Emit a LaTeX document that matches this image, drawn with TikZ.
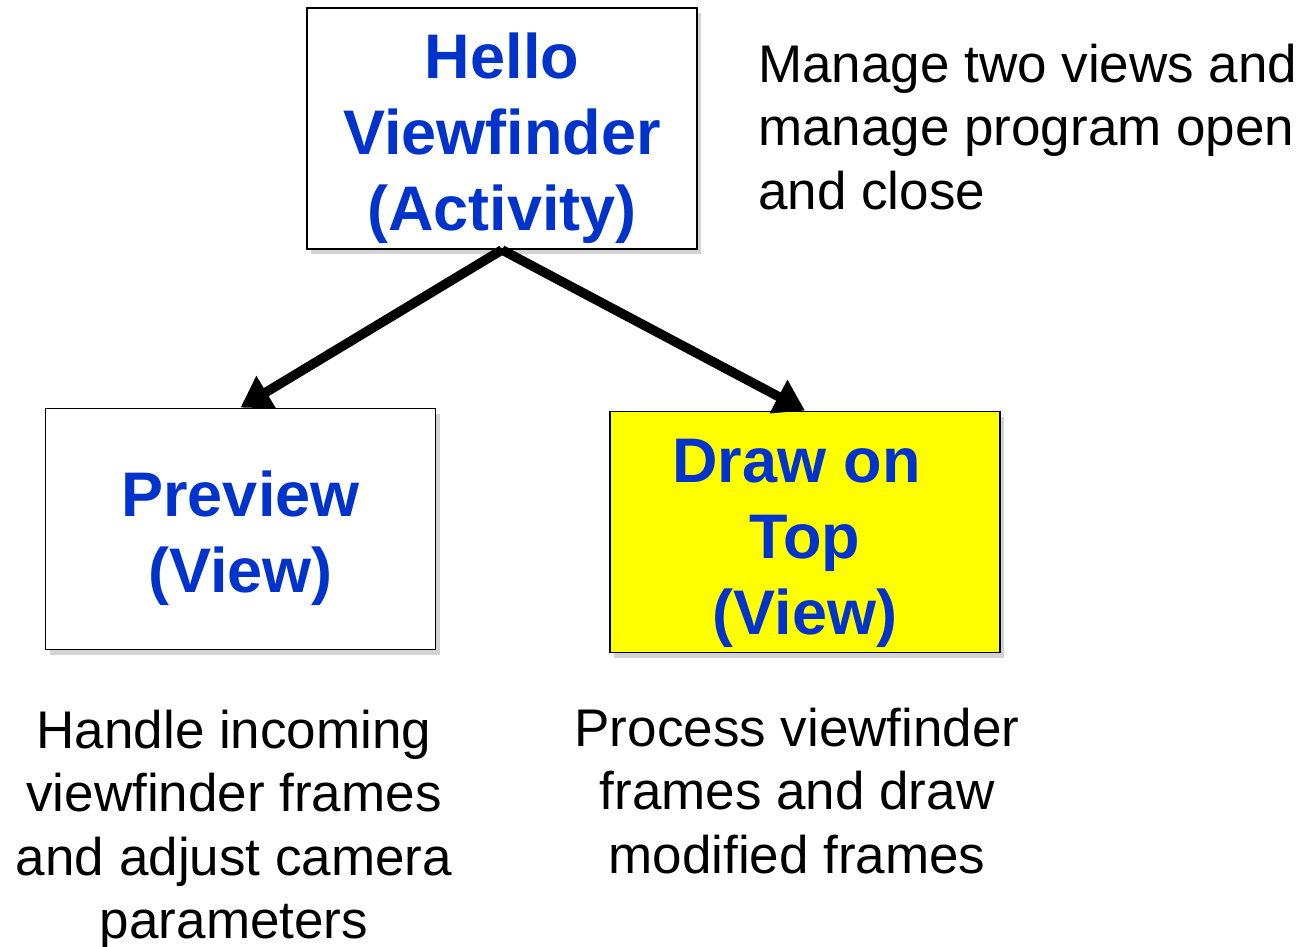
\documentclass[tikz,border=0pt]{standalone}
\usepackage{fontspec}
\setmainfont{Liberation Sans}
\usetikzlibrary{arrows.meta,shadows}
\definecolor{tblue}{HTML}{0033CC}
\definecolor{tyellow}{HTML}{FFFF00}
\tikzset{
  classbox/.style={draw=black, line width=1.8pt, fill=white, minimum width=390pt, minimum height=241pt,
    inner sep=0pt, drop shadow={opacity=0.35, shadow xshift=4pt, shadow yshift=-5pt}},
  boxtext/.style={align=center, text=tblue, font=\fontsize{63}{76}\selectfont\bfseries, inner sep=0pt},
  desc/.style={font=\fontsize{53}{63.5}\selectfont, inner sep=0pt, text=black},
  link/.style={line width=9.5pt, -{Triangle[length=30pt,width=36pt]}}
}
\begin{document}
\begin{tikzpicture}[x=1pt,y=-1pt]
\useasboundingbox (0,0) rectangle (1303,947);
\node[classbox] (hello) at (502,128.5) {};
\node[boxtext] (hellot) at ([yshift=-10pt]hello.center) {Hello\\Viewfinder\\(Activity)};
\node[classbox] (preview) at (240.5,529) {};
\node[boxtext] (previewt) at ([yshift=-9pt]preview.center) {Preview\\(View)};
\node[classbox, fill=tyellow] (draw) at (805,532) {};
\node[boxtext] (drawt) at ([yshift=-11pt]draw.center) {Draw on\kern17pt\\Top\\(View)};
\draw[link] (hello.south) -- (preview.north);
\draw[link] (hello.south) -- (draw.north);
\node[desc, align=left, anchor=base west] (d1) at (758,209) {Manage two views and\\manage program open\\and close};
\node[desc, align=center, anchor=base] (d2) at (234,938.5) {Handle incoming\\viewfinder frames\\and adjust camera\\parameters};
\node[desc, align=center, anchor=base] (d3) at (797,873) {Process viewfinder\\frames and draw\\modified frames};
\end{tikzpicture}
\end{document}
